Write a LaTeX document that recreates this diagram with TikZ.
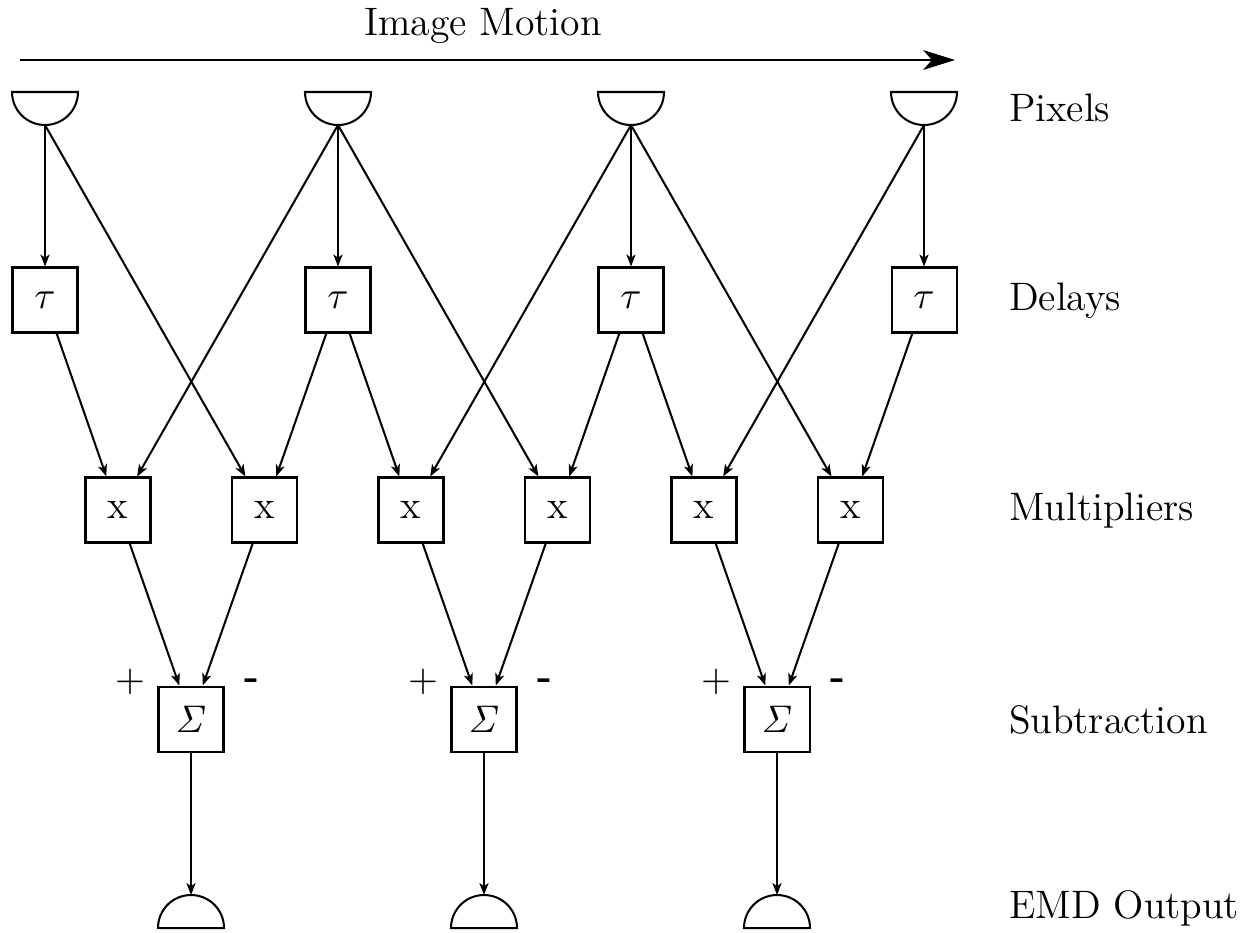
\documentclass[tikz,border=0pt]{standalone}
\usepackage{tikz}
\usetikzlibrary{arrows.meta}

\begin{document}
\begin{tikzpicture}[
	font=\fontsize{11.3}{13.6}\selectfont,
	line width=0.58pt,
	box/.style={draw, minimum size=6.5mm, inner sep=0pt},
	wire/.style={-{Stealth[length=3.4pt,width=2.6pt,inset=0.9pt]}},
	rowlabel/.style={anchor=base west, inner sep=0pt}
	]
	\useasboundingbox (0,0) rectangle (12.54,-9.32);

	% motion arrow
	\coordinate (motion start) at (0.2,-0.6);
	\coordinate (motion end) at (9.55,-0.6);
	\draw[line width=0.85pt, -{Stealth[length=9pt,width=5.6pt,inset=2.4pt]}] (motion start) -- (motion end);
	\node[anchor=base, inner sep=0pt] (motion) at (4.83,-0.35) {Image Motion};

	% pixels and delays
	\foreach \i in {0,...,3} {
		\pgfmathsetmacro\px{0.45+2.93*\i}
		\draw (\px-0.33,-0.92) -- ++(0.66,0) arc[start angle=0, end angle=-180, radius=0.33] -- cycle;
		\coordinate (p\i) at (\px,-1.25);
		\node[box] (d\i) at (\px,-3.00) {$\tau$};
	}

	% multipliers
	\foreach \j in {0,...,5}
		\node[box] (m\j) at (1.18+1.465*\j,-5.10) {x};

	% subtraction and outputs
	\foreach \k in {0,1,2} {
		\pgfmathsetmacro\sx{1.91+2.93*\k}
		\node[box] (s\k) at (\sx,-7.19) {$\mathit{\Sigma}$};
		\node (plus\k) at (\sx-0.61,-6.82) {$+$};
		\node (minus\k) at (\sx+0.61,-6.84) {\textbf{-}};
		\draw (\sx-0.33,-9.28) -- ++(0.66,0) arc[start angle=0, end angle=180, radius=0.33] -- cycle;
		\coordinate (o\k) at (\sx,-8.95);
	}

	\foreach \a/\b in {p0/d0, p1/d1, p2/d2, p3/d3,
		p0/m1, p1/m0, p1/m3, p2/m2, p2/m5, p3/m4,
		d0/m0, d1/m1, d1/m2, d2/m3, d2/m4, d3/m5,
		m0/s0, m1/s0, m2/s1, m3/s1, m4/s2, m5/s2,
		s0/o0, s1/o1, s2/o2}
		\draw[wire] (\a) -- (\b);

	% row labels
	\node[rowlabel] (lpix) at (10.08,-1.217) {Pixels};
	\node[rowlabel] (ldel) at (10.08,-3.10) {Delays};
	\node[rowlabel] (lmul) at (10.08,-5.20) {Multipliers};
	\node[rowlabel] (lsub) at (10.08,-7.33) {Subtraction};
	\node[rowlabel] (lout) at (10.08,-9.18) {EMD Output};
\end{tikzpicture}
\end{document}
